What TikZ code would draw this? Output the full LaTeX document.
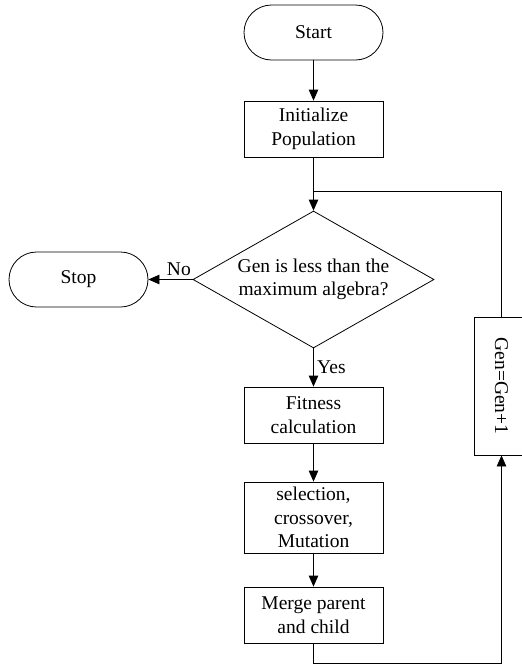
\documentclass[tikz,border=0pt]{standalone}
\usepackage{fontspec}
\setmainfont{Liberation Serif}
\usetikzlibrary{shapes.geometric,arrows.meta}

\begin{document}
\begin{tikzpicture}[x=1pt,y=-1pt,line width=0.8pt,
    font=\fontsize{19.5}{23.5}\selectfont,
    >={Triangle[length=11pt,width=9.5pt]},
    term/.style={draw,rectangle,rounded corners=27.5pt,minimum width=139pt,minimum height=55pt},
    proc/.style={draw,rectangle,align=center,inner sep=2pt,minimum width=139pt,minimum height=56pt},
    test/.style={draw,diamond,aspect=1.76,inner sep=0pt,align=center,minimum width=241pt,minimum height=137pt}]
      \useasboundingbox (0,0) rectangle (522,665);

      \node[term](start) at (313.5, 32.5) {Start};
      \node[proc](init)  at (313.5, 129)  {Initialize\\Population};
      \node[test](dec)   at (313.5, 279.5) {Gen is less than the\\maximum algebra?};
      \node[term](stop)  at (78.5, 279.5) {Stop};

      \node[proc](fit)   at (313.5, 415)  {Fitness\\calculation};
      \node[proc, minimum height=71pt](sel) at (313.5, 517.5) {selection,\\crossover,\\Mutation};
      \node[proc](merge) at (313.5, 615)  {Merge parent\\and child};
      \node[draw, inner sep=0pt, minimum width=55pt, minimum height=138pt](gen)
            at (501.5, 386) {\rotatebox{-90}{Gen=Gen+1}};

      \coordinate(top) at (313.5, 191);
      \coordinate(bot) at (313.5, 663);

      \draw[->](start) -- (init);
      \draw (init) -- (top);
      \draw (gen) |- (top);
      \draw[->](top) -- (dec);
      \draw[->](dec) -- node[pos=0.31, above] {No} (stop);
      \draw[->](dec) -- node[right] {Yes} (fit);
      \draw[->](fit) -- (sel);
      \draw[->](sel) -- (merge);
      \draw[->](merge) -- (bot) -| (gen);
    \end{tikzpicture}
\end{document}
